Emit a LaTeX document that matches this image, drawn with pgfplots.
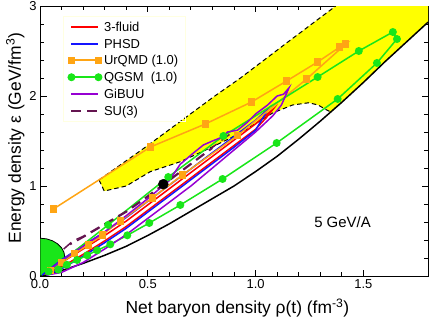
\documentclass[border=0pt]{standalone}
\usepackage{fontspec}
\setmainfont{Liberation Sans}
\usepackage{pgfplots}
\pgfplotsset{compat=1.18}
\definecolor{bandyellow}{RGB}{255,255,0}
\definecolor{fluidred}{RGB}{255,0,0}
\definecolor{phsdblue}{RGB}{20,20,255}
\definecolor{urqorange}{RGB}{255,165,20}
\definecolor{qgsmgreen}{RGB}{25,230,25}
\definecolor{gibuupurple}{RGB}{150,0,210}
\definecolor{sudark}{RGB}{100,20,80}
\definecolor{legframe}{RGB}{255,255,225}

\pgfplotsset{
    lineimg/.style={legend image code/.code={\draw[#1, line width=2bp] (0bp,0bp) -- (27bp,0bp);}},
    markimg/.style={legend image code/.code={%
        \draw[#1, line width=2bp] (0bp,0bp) -- (27bp,0bp);
        \draw[#1] plot[only marks] coordinates {(0bp,0bp)(27bp,0bp)};}},
}

\begin{document}
\begin{tikzpicture}
\begin{axis}[
    width=388bp, height=270bp, scale only axis,
    xmin=0, xmax=1.8, ymin=0, ymax=3,
    axis line style={line width=1bp},
    xtick={0,0.5,1,1.5}, xticklabels={0.0,0.5,1.0,1.5},
    ytick={0,1,2,3},
    minor x tick num=4, minor y tick num=4,
    tick align=inside,
    major tick length=6.5bp, minor tick length=4bp,
    every tick/.style={black, line width=0.8bp},
    tick label style={font=\fontsize{13}{15}\selectfont},
    /pgf/number format/assume math mode=true,
    xlabel={Net baryon density ρ(t) (fm\textsuperscript{-3})},
    ylabel={Energy density ε (GeV/fm\textsuperscript{3})},
    label style={font=\fontsize{17.5}{20}\selectfont},
    xlabel style={at={(axis description cs:0.2113,-0.1407)}, anchor=base west},
    ylabel style={at={(axis description cs:-0.049,0.107)}, anchor=base west},
    legend style={at={(axis cs:0.107,2.89)}, anchor=north west,
        draw=legframe, fill=none,
        font=\fontsize{13}{15}\selectfont,
        inner xsep=5bp, inner ysep=2.5bp, row sep=0pt,
        nodes={inner sep=2.4bp},
        /tikz/every even column/.append style={column sep=10.5bp}},
    legend cell align=left,
]
% yellow region
\addplot[fill=bandyellow, draw=none, forget plot] coordinates {
    (0.274,1.067)(0.5,1.45)(0.805,1.99)(0.93,2.2)(1.15,2.6)(1.372,3.0)(1.8,3.0)(1.8,2.82)
    (1.7,2.6)(1.6,2.38)(1.5,2.15)(1.4,1.93)(1.35,1.82)
    (1.326,1.85)(1.29,1.90)(1.247,1.925)(1.2,1.91)(1.172,1.9)(1.079,1.811)(0.93,1.589)
    (0.805,1.44)(0.651,1.27)(0.512,1.16)(0.4,1.0)(0.298,0.944)} -- cycle;
\addplot[black, line width=1bp, dash pattern=on 4.5bp off 3bp, forget plot] coordinates {
    (0.274,1.067)(0.5,1.45)(0.805,1.99)(0.93,2.2)(1.15,2.6)(1.372,3.0)};
\addplot[black, line width=1bp, dash pattern=on 4.5bp off 3bp, forget plot] coordinates {
    (0.274,1.067)(0.298,0.944)(0.4,1.0)(0.512,1.16)(0.651,1.27)(0.805,1.44)(0.93,1.589)
    (1.079,1.811)(1.172,1.9)(1.247,1.925)(1.29,1.90)(1.326,1.85)(1.35,1.82)};
% lower bound
\addplot[black, line width=1.5bp, forget plot] coordinates {
    (0,0)(0.1,0.06)(0.2,0.14)(0.3,0.23)(0.4,0.33)(0.5,0.45)(0.6,0.58)(0.7,0.72)
    (0.8,0.86)(0.9,1.0)(1.0,1.16)(1.1,1.33)(1.2,1.52)(1.3,1.72)(1.4,1.93)(1.5,2.15)
    (1.6,2.38)(1.7,2.6)(1.8,2.82)};
% green half ellipse
\addplot[fill=qgsmgreen, draw=black, line width=0.8bp, forget plot] coordinates {
    (0,0.42)(0.030,0.413)(0.0575,0.392)(0.0813,0.358)(0.0996,0.315)(0.111,0.264)(0.115,0.21)
    (0.111,0.156)(0.0996,0.105)(0.0813,0.0615)(0.0575,0.0281)(0.030,0.0072)(0,0)} -- cycle;

\addplot[fluidred, line width=1.5bp, lineimg={fluidred}] coordinates {
    (0.02,0.02)(0.1,0.15)(0.2,0.30)(0.3,0.45)(0.4,0.61)(0.5,0.79)(0.6,0.97)(0.7,1.15)
    (0.8,1.33)(0.9,1.51)(1.0,1.69)(1.08,1.85)(1.05,1.76)(1.0,1.63)(0.9,1.45)(0.8,1.27)
    (0.7,1.09)(0.6,0.91)(0.5,0.73)(0.4,0.55)(0.3,0.39)(0.2,0.24)(0.1,0.10)(0.04,0.04)};
\addlegendentry{\strut 3-fluid}
\addplot[phsdblue, line width=1.5bp, lineimg={phsdblue}] coordinates {
    (0.01,0.01)(0.1,0.18)(0.2,0.34)(0.3,0.49)(0.4,0.65)(0.5,0.83)(0.6,1.01)(0.7,1.19)
    (0.8,1.37)(0.9,1.55)(1.0,1.73)(1.06,1.86)(1.0,1.62)(0.9,1.43)(0.8,1.25)(0.7,1.07)
    (0.6,0.89)(0.5,0.71)(0.4,0.53)(0.3,0.37)(0.2,0.22)(0.1,0.08)(0.03,0.01)};
\addlegendentry{\strut PHSD}
\addplot[urqorange, line width=1.5bp, mark=square*, mark size=2.8bp, markimg={urqorange}] coordinates {
    (0.062,0.744)(0.512,1.433)(0.767,1.689)(0.981,1.933)(1.144,2.167)(1.288,2.378)
    (1.391,2.544)(1.419,2.578)(1.237,2.189)(0.916,1.56)(0.66,1.122)(0.521,0.867)
    (0.372,0.611)(0.288,0.456)(0.223,0.344)(0.16,0.25)(0.1,0.15)(0.05,0.06)};
\addlegendentry{\strut UrQMD (1.0)}
\addplot[qgsmgreen, line width=1.5bp, mark=*, mark size=3.2bp, markimg={qgsmgreen}] coordinates {
    (0.04,0.05)(0.316,0.567)(0.595,1.1)(0.851,1.556)(1.288,2.211)(1.479,2.5)(1.637,2.711)
    (1.656,2.633)(1.563,2.367)(1.381,1.967)(1.098,1.478)(0.847,1.078)(0.651,0.789)
    (0.507,0.589)(0.405,0.452)(0.326,0.352)(0.265,0.285)(0.219,0.23)(0.172,0.178)
    (0.125,0.125)(0.085,0.07)};
\addlegendentry{\strut QGSM~ (1.0)}
\addplot[gibuupurple, line width=1.5bp, lineimg={gibuupurple}] coordinates {
    (0.03,0.01)(0.1,0.04)(0.2,0.15)(0.3,0.30)(0.4,0.46)(0.5,0.64)(0.6,0.82)(0.7,1.0)
    (0.8,1.2)(0.9,1.4)(1.0,1.6)(1.08,1.78)(1.12,1.9)(1.155,2.09)(1.13,2.02)(1.1,2.0)
    (1.056,1.9)(1.0,1.8)(0.963,1.71)(0.916,1.62)(0.87,1.6)(0.847,1.544)(0.8,1.5)
    (0.758,1.456)(0.712,1.367)(0.65,1.24)(0.6,1.06)(0.5,0.86)(0.4,0.67)(0.3,0.49)
    (0.2,0.33)(0.1,0.17)(0.05,0.08)};
\addlegendentry{\strut GiBUU}
\addplot[sudark, line width=1.5bp, dash pattern=on 10bp off 6bp, lineimg={sudark}] coordinates {
    (0.11,0.30)(0.153,0.39)(0.2,0.44)(0.3,0.58)(0.4,0.72)(0.5,0.89)(0.6,1.07)
    (0.7,1.25)(0.8,1.43)(0.9,1.61)};
\addlegendentry{\strut SU(3)}
\addplot[sudark, line width=1.5bp, dash pattern=on 10bp off 6bp, dash phase=8bp, forget plot] coordinates {
    (0.14,0.35)(0.2,0.43)(0.3,0.57)(0.4,0.71)(0.5,0.88)(0.6,1.06)(0.7,1.24)(0.8,1.42)};
\addplot[only marks, mark=*, mark size=5bp, black, forget plot] coordinates {(0.572,1.02)};
\node[anchor=west, font=\fontsize{15}{17}\selectfont] at (axis cs:1.256,0.6) {5 GeV/A};
\coordinate (fsw) at (rel axis cs:0,0);
\coordinate (fne) at (rel axis cs:1,1);
\end{axis}
\pgfresetboundingbox
\path[use as bounding box] ([shift={(-40bp,-44bp)}]fsw) rectangle ([shift={(1bp,6bp)}]fne);
\end{tikzpicture}
\end{document}
